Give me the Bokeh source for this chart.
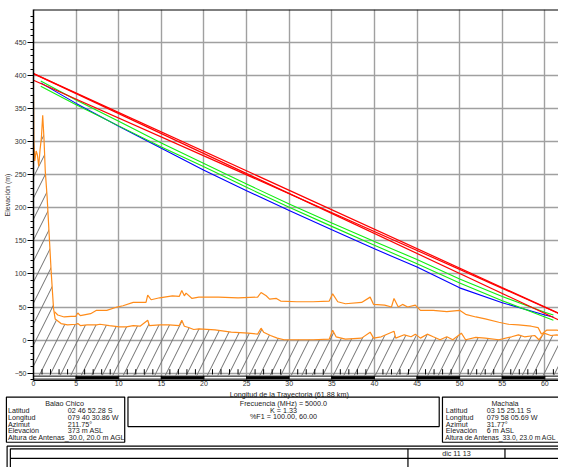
from bokeh.plotting import figure
from bokeh.models import Range1d, FixedTicker, Span
from bokeh.layouts import column
from bokeh.embed import file_html
from bokeh.resources import INLINE
from bokeh.core.properties import value

# ---------------- data ----------------
x_ticks = [0, 5, 10, 15, 20, 25, 30, 35, 40, 45, 50, 55, 60]
y_ticks = [-50, 0, 50, 100, 150, 200, 250, 300, 350, 400, 450]
y_minor = [v for v in range(-60, 501, 10) if v % 50 != 0]
km_minor = [k for k in range(1, 62) if k % 5 != 0]
bar_left = [0, 5, 10, 15, 20, 25, 30, 35, 40, 45, 50, 55, 60]
bar_right = [5, 10, 15, 20, 25, 30, 35, 40, 45, 50, 55, 60, 61.88]

# terrain profile (km, m)
terrain_km = [0, 0.04, 0.15, 0.31, 0.46, 0.61, 0.77, 0.92, 1.08, 1.23, 1.38, 1.6, 2.08, 2.35,
              2.54, 2.85, 3.23, 4.0, 4.96, 5.2, 5.5, 6.3, 7.4, 7.8, 8.9, 10.1, 10.9, 11.7,
              12.5, 13.4, 13.6, 14.8, 15.9, 17.1, 17.4, 17.7, 18.2, 18.8, 19.4, 21.3, 23.2,
              25.2, 26.3, 26.7, 27.0, 27.8, 28.6, 29.4, 30.9, 32.8, 34.7, 35.1, 35.5, 36.6,
              38.5, 39.5, 39.9, 40.8, 42.3, 42.5, 43.5, 44.3, 44.8, 45.4, 46.2, 46.9, 47.7,
              48.5, 49.2, 50.2, 50.7, 51.9, 53.0, 54.6, 56.1, 56.9, 57.6, 58.8, 59.3, 59.9,
              60.7, 61.4, 61.88]
terrain_m = [372, 300, 271, 286, 280, 263, 288, 305, 340, 305, 256, 216, 102, 48,
             32, 29, 25, 23, 24, 25, 22, 23, 23, 24, 22, 20, 20, 22,
             21, 30, 22, 23, 23, 22, 30, 21, 19, 16, 17, 15.5, 12,
             10.5, 9, 18, 12, 7, 3, 0.5, 0.5, 0.5, 1.5, 15, 5, 1.5,
             3, 12, 3, 5, 13.5, 3, 8, 5, 9, 3, 9, 5, 0.5,
             5, 0.5, 10.5, 0.5, 4, 3, 0.5, 5, 8, 5, 7, 0.5, 10.5,
             7, 8, 6]

# terrain + clutter
clutter_km = [2.46, 2.85, 3.6, 4.4, 4.96, 5.2, 5.5, 6.7, 7.4, 8.6, 9.8, 10.5, 11.7, 13.2,
              13.4, 13.8, 14.8, 16.3, 17.1, 17.4, 17.7, 17.9, 18.6, 19.4, 21.7, 24.0, 26.3,
              26.7, 27.3, 27.7, 28.5, 29.0, 30.9, 32.8, 34.7, 35.1, 35.7, 36.6, 38.5, 39.5,
              39.9, 41.2, 42.0, 42.3, 42.8, 43.3, 43.9, 44.8, 45.4, 46.9, 48.5, 50.0, 50.7,
              51.9, 53.0, 54.6, 55.7, 56.9, 58.4, 59.2, 59.6, 60.2, 61.4, 61.88]
clutter_m = [43, 38, 35, 36, 36, 41, 37, 40, 45, 45, 50, 52, 57, 57,
             68, 61, 64, 67, 66, 75, 67, 71, 63, 65, 65, 64, 65,
             72, 67, 62, 63, 59, 58, 58, 59, 70, 58, 55, 57, 65,
             54, 53, 50, 63, 50, 54, 50, 53, 45, 45, 43, 45, 39,
             35, 32, 27, 24, 23, 21, 19, 9, 15, 15, 14]

# line-of-sight rays (antenna tops)
los_km = [0, 61.88]
los_a = [403, 39]
los_b = [403, 29]
los_c = [393, 39]

# Fresnel clearance curves
fz_km = [0.85, 5, 10, 15, 20, 25, 30, 35, 40, 45, 50, 55, 60, 61.0]
green_1 = [392, 363, 331, 298, 267, 236, 206, 177, 149, 122, 92.5, 66, 42, 38]
green_2 = [384, 356, 324, 292, 262, 231, 201, 172, 143.5, 115.5, 86.5, 59.5, 35, 30]
blue_1 = [389, 358, 323.5, 290, 257, 226, 196, 167, 138, 110.5, 79, 56.5, 38, 35]

site_labels = ["Latitud", "Longitud", "Azimut", "Elevación"]
ant_label = "Altura de Antenas_"
site_a_name = "Balao Chico"
site_a_vals = ["02 46 52.28 S", "079 40 30.86 W", "211.75°", "373 m ASL"]
site_a_ant = "30.0, 20.0 m AGL"
site_b_name = "Machala"
site_b_vals = ["03 15 25.11 S", "079 58 05.69 W", "31.77°", "6 m ASL"]
site_b_ant = "33.0, 23.0 m AGL"
mid_lines = ["Frecuencia (MHz) = 5000.0", "K = 1.33", "%F1 = 100.00, 60.00"]
x_title = "Longitud de la Trayectoria (61.88 km)"
y_title = "Elevación (m)"
date_text = "dic 11 13"

FONT = "Liberation Sans"
W = 558
H1 = 389
H2 = 78

# ---------------- main chart ----------------
p = figure(width=W, height=H1, output_backend="svg", toolbar_location=None,
           x_range=Range1d(0, 61.6), y_range=Range1d(-61.1, 500),
           min_border_left=32, min_border_right=0, min_border_top=9, min_border_bottom=9)
p.outline_line_color = None
p.frame_align = False

p.xaxis.ticker = FixedTicker(ticks=x_ticks, minor_ticks=[])
p.yaxis.ticker = FixedTicker(ticks=y_ticks, minor_ticks=y_minor)
p.xgrid.ticker = FixedTicker(ticks=x_ticks)
p.ygrid.ticker = FixedTicker(ticks=y_ticks)
for g in (p.xgrid[0], p.ygrid[0]):
    g.grid_line_color = "#a0a0a0"
    g.grid_line_width = 1.4

xa = p.xaxis[0]
xa.axis_line_color = "black"
xa.axis_line_width = 1.2
xa.major_tick_in = 0
xa.major_tick_out = 0
xa.minor_tick_in = 0
xa.minor_tick_out = 0
xa.major_label_standoff = 0
xa.major_label_text_font = FONT
xa.major_label_text_font_size = "7px"
xa.major_label_text_color = "#333333"

ya = p.yaxis[0]
ya.axis_line_color = "black"
ya.axis_line_width = 1.5
ya.major_tick_in = 0
ya.major_tick_out = 6
ya.minor_tick_in = 0
ya.minor_tick_out = 3
ya.major_tick_line_color = "black"
ya.minor_tick_line_color = "black"
ya.major_label_standoff = 1
ya.major_label_text_font = FONT
ya.major_label_text_font_size = "7px"
ya.major_label_text_color = "#333333"
ya.axis_label = y_title
ya.axis_label_text_font = FONT
ya.axis_label_text_font_size = "7px"
ya.axis_label_text_font_style = "normal"
ya.axis_label_text_color = "#333333"
ya.axis_label_standoff = 1

# top border
p.add_layout(Span(location=500, dimension="width", line_color="black", line_width=2))

# hatched ground
p.varea(x=terrain_km, y1=[-53] * len(terrain_km), y2=terrain_m,
        fill_color=None, fill_alpha=0, hatch_pattern="/", hatch_color="#707070",
        hatch_weight=1, hatch_scale=21)

# distance scale bar and km ticks
p.quad(left=bar_left, right=bar_right, top=-54.5, bottom=-59,
       fill_color=["white" if i % 2 == 0 else "black" for i in range(len(bar_left))],
       line_color="black", line_width=1)
p.segment(x0=km_minor, y0=[-44] * len(km_minor), x1=km_minor, y1=[-52] * len(km_minor),
          line_color="black", line_width=1)

# terrain lines
p.line(clutter_km, clutter_m, line_color="#ff8c1a", line_width=1.2)
p.line(terrain_km, terrain_m, line_color="#ff8c1a", line_width=1.2)

# fresnel curves
p.line(fz_km, blue_1, line_color="#0000ff", line_width=1.1)
p.line(fz_km, green_1, line_color="#11ee11", line_width=1.1)
p.line(fz_km, green_2, line_color="#11ee11", line_width=1.1)

# LOS rays
for ys in (los_a, los_b, los_c):
    p.line(los_km, ys, line_color="#ff0000", line_width=1.2)

# ---------------- info panel ----------------
p2 = figure(width=W, height=H2, output_backend="svg", toolbar_location=None,
            x_range=Range1d(0, 566), y_range=Range1d(475, 395.6),
            x_axis_type=None, y_axis_type=None, min_border=0)
p2.outline_line_color = None
p2.frame_align = False

box_l = [6, 129.3, 448.3, 6.7, 10]
box_r = [126, 445, 575, 575, 575]
box_t = [403.3, 403.3, 403.3, 453.3, 456]
box_b = [449.3, 433.3, 449.3, 490, 490]
p2.quad(left=box_l, right=box_r, top=box_t, bottom=box_b,
        fill_color=None, line_color="black", line_width=1.2)
p2.segment(x0=[10, 413.3, 511.7], y0=[465.7, 456, 456], x1=[575, 413.3, 511.7],
           y1=[465.7, 490, 465.7], line_color="black", line_width=1.2)

row_y = [416.8, 423.8, 430.8, 437.8]
ant_y = 444.8
txt = dict(text_font=value(FONT), text_font_size="7.2px", text_baseline="middle",
           text_color="#1a1a1a")
p2.text(x=[293], y=[396.2], text=[x_title], text_align="center",
        text_font=value(FONT), text_font_size="7.2px", text_baseline="top",
        text_color="#1a1a1a")
p2.text(x=[65, 511.7], y=[409.4, 409.4], text=[site_a_name, site_b_name],
        text_align="center", **txt)
p2.text(x=[7.5] * 4, y=row_y, text=site_labels, text_align="left", **txt)
p2.text(x=[68.3] * 4, y=row_y, text=site_a_vals, text_align="left", **txt)
p2.text(x=[7.5], y=[ant_y], text=[ant_label + site_a_ant], text_align="left", **txt)
p2.text(x=[451.7] * 4, y=row_y, text=site_labels, text_align="left", **txt)
p2.text(x=[493.3] * 4, y=row_y, text=site_b_vals, text_align="left", **txt)
p2.text(x=[451.0], y=[ant_y], text=[ant_label + site_b_ant], text_align="left",
        text_font=value(FONT), text_font_size="6.8px", text_baseline="middle",
        text_color="#1a1a1a")
p2.text(x=[287] * 3, y=[409.4, 416.6, 423.5], text=mid_lines, text_align="center", **txt)
p2.text(x=[462.5], y=[460.7], text=[date_text], text_align="center", **txt)

layout = column(p, p2, spacing=0)
open("out.html", "w").write(file_html(layout, INLINE))
